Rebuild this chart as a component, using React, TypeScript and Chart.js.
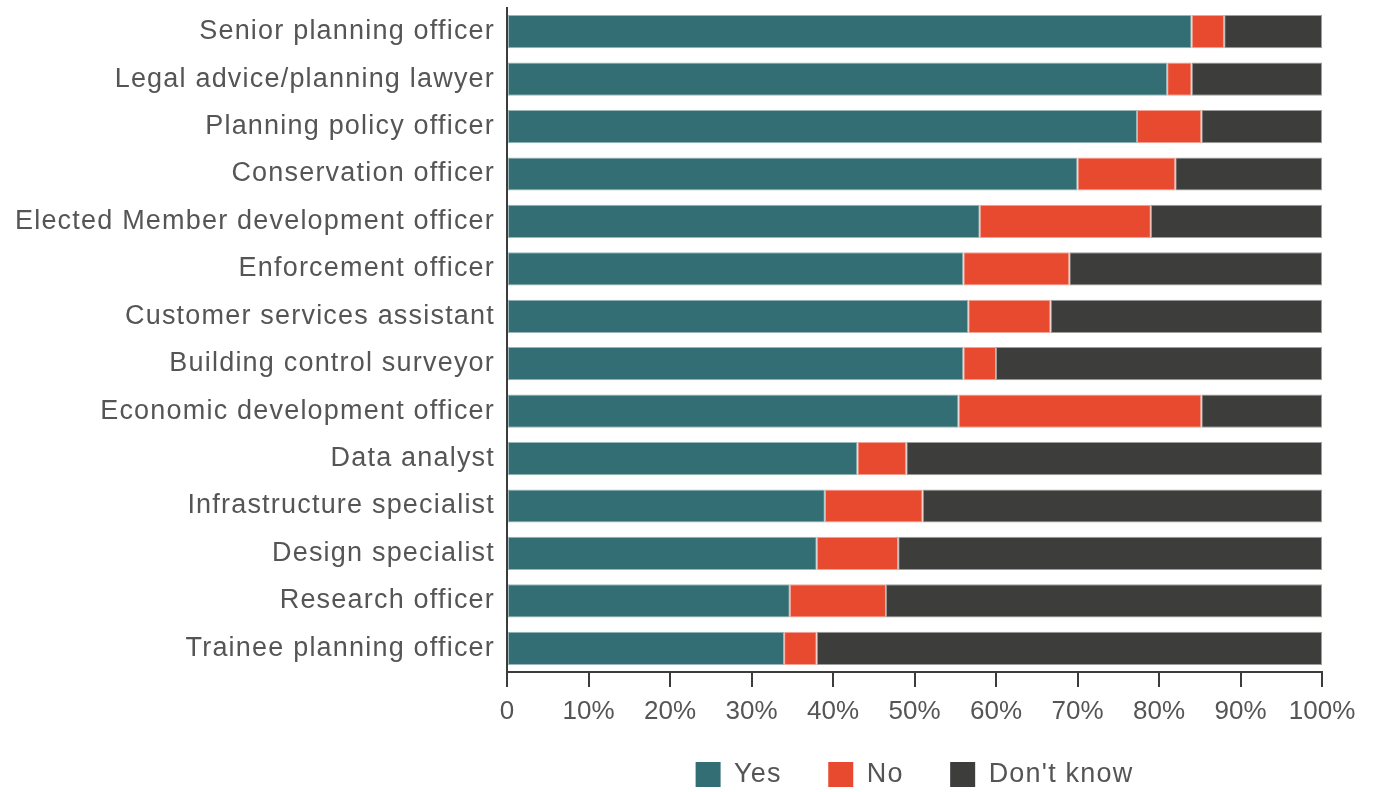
import React, { useEffect, useRef } from 'react';
import { Chart, registerables, LinearScale } from 'chart.js';

Chart.register(...registerables);

const categories = [
  'Senior planning officer',
  'Legal advice/planning lawyer',
  'Planning policy officer',
  'Conservation officer',
  'Elected Member development officer',
  'Enforcement officer',
  'Customer services assistant',
  'Building control surveyor',
  'Economic development officer',
  'Data analyst',
  'Infrastructure specialist',
  'Design specialist',
  'Research officer',
  'Trainee planning officer',
];

const yesValues = [84, 81, 77.3, 70, 58, 56, 56.6, 56, 55.4, 43, 39, 38, 34.7, 34];
const noValues = [4, 3, 7.9, 12, 21, 13, 10.1, 4, 29.8, 6, 12, 10, 11.8, 4];
const dontKnowValues = [12, 16, 14.8, 18, 21, 31, 33.3, 40, 14.8, 51, 49, 52, 53.5, 62];

const seriesNames = ['Yes', 'No', "Don't know"];
const seriesColors = ['#336e74', '#e84a2f', '#3d3d3b'];
const seriesBorders = ['#99b6b9', '#f3a497', '#9e9e9d'];

const xTickLabels = ['0', '10%', '20%', '30%', '40%', '50%', '60%', '70%', '80%', '90%', '100%'];

const FONT = '"Liberation Sans", Arial, Helvetica, sans-serif';
const TEXT_COLOR = '#555555';
const AXIS_COLOR = '#3c3c3c';
const LABEL_SPACING = '1.2px';

class PlainLinearScale extends LinearScale {
  static id = 'plainLinear';
  static defaults = LinearScale.defaults;
  _computeLabelArea(): any {
    return undefined;
  }
  drawLabels(area: any) {
    const ctx: any = this.ctx;
    const prev = ctx.letterSpacing;
    ctx.letterSpacing = '0px';
    super.drawLabels(area);
    ctx.letterSpacing = prev;
  }
}
Chart.register(PlainLinearScale);

const spacingPlugin = {
  id: 'labelSpacing',
  beforeLayout(chart: any) {
    chart.ctx.letterSpacing = LABEL_SPACING;
  },
  beforeDraw(chart: any) {
    chart.ctx.letterSpacing = LABEL_SPACING;
  },
};

export default function App() {
  const canvasRef = useRef<HTMLCanvasElement | null>(null);

  useEffect(() => {
    document.body.style.margin = '0';
    const canvas = canvasRef.current;
    if (!canvas) return;
    const values = [yesValues, noValues, dontKnowValues];
    const chart = new Chart(canvas, {
      type: 'bar',
      data: {
        labels: categories,
        datasets: seriesNames.map((name, i) => ({
          label: name,
          data: values[i],
          backgroundColor: seriesColors[i],
          borderColor: seriesBorders[i],
          borderWidth: 1,
          borderSkipped: false,
          barPercentage: 0.7,
          categoryPercentage: 1,
        })),
      },
      plugins: [spacingPlugin],
      options: {
        indexAxis: 'y',
        animation: false,
        responsive: false,
        devicePixelRatio: 1,
        layout: { padding: { top: 8, right: 52, bottom: 0, left: 0 } },
        font: { family: FONT },
        scales: {
          x: {
            type: 'plainLinear' as any,
            stacked: true,
            min: 0,
            max: 100,
            afterFit: (s: any) => {
              s.height = 42.5;
            },
            grid: {
              display: true,
              drawOnChartArea: false,
              drawTicks: true,
              tickLength: 15,
              color: AXIS_COLOR,
              lineWidth: 2,
            },
            border: { display: true, color: AXIS_COLOR, width: 2 },
            ticks: {
              stepSize: 10,
              padding: 9,
              maxRotation: 0,
              color: TEXT_COLOR,
              font: { family: FONT, size: 26 },
              callback: (_v: any, index: number) => xTickLabels[index],
            },
          },
          y: {
            type: 'category',
            stacked: true,
            afterFit: (s: any) => {
              s.width = 507;
              s.paddingTop = 0;
              s.paddingBottom = 0;
            },
            grid: { display: false, drawTicks: false },
            border: { display: true, color: AXIS_COLOR, width: 2 },
            ticks: {
              autoSkip: false,
              padding: 12,
              color: TEXT_COLOR,
              font: { family: FONT, size: 27 },
            },
          },
        },
        plugins: {
          tooltip: { enabled: false },
          legend: {
            display: true,
            position: 'bottom',
            fullSize: false,
            maxHeight: 77.5,
            labels: {
              boxWidth: 25,
              boxHeight: 25,
              padding: 46.5,
              color: TEXT_COLOR,
              font: { family: FONT, size: 27 },
              generateLabels: (c: any) =>
                Chart.defaults.plugins.legend.labels
                  .generateLabels(c)
                  .map((l: any) => ({ ...l, lineWidth: 0 })),
            },
          },
        },
      } as any,
    });
    return () => {
      chart.destroy();
    };
  }, []);

  return (
    <canvas
      ref={canvasRef}
      width={1374}
      height={792}
      style={{ position: 'absolute', left: 0, top: 0, display: 'block', width: 1374, height: 792 }}
    />
  );
}
